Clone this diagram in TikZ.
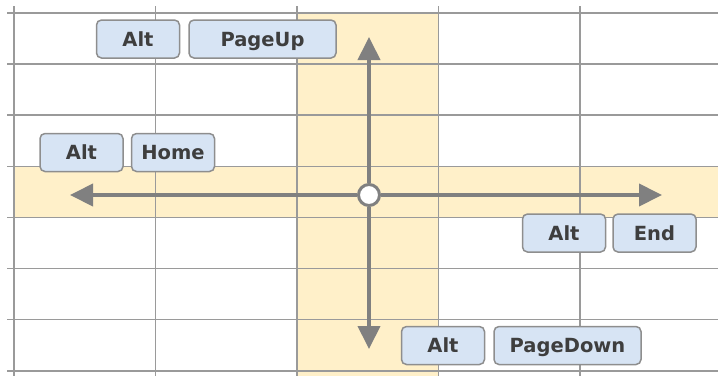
\documentclass[tikz,border=0pt]{standalone}
\usepackage{fontspec}
\setmainfont{DejaVu Sans}
\usepackage{xcolor}
\usetikzlibrary{positioning,arrows.meta}
\definecolor{gridgray}{HTML}{9A9A9A}
\definecolor{hilite}{HTML}{FFF0C9}
\definecolor{keyfill}{HTML}{D7E4F4}
\definecolor{keyline}{HTML}{8E8E8E}
\definecolor{keytext}{HTML}{3E3E3E}
\definecolor{arrowgray}{HTML}{808080}

\begin{document}
\begin{tikzpicture}[x=1pt, y=-1pt,
    key/.style={draw=keyline, line width=1.5pt, fill=keyfill, rounded corners=5pt,
        minimum width=83pt, minimum height=38pt, inner sep=0pt,
        text height=17pt, text depth=3pt, text=keytext,
        font=\fontsize{19.5}{20}\selectfont\bfseries},
    widekey/.style={key, minimum width=147pt},
    move/.style={draw=arrowgray, line width=4pt, -{Triangle[length=23pt,width=22pt]}}]
    \useasboundingbox (0,0) rectangle (718,376);

    % Highlighted column and row
    \fill[hilite] (297,13) rectangle (438.5,376);
    \fill[hilite] (14,166.3) rectangle (718,217.4);

    % Cell grid
    \foreach \y in {13,64.1,115.2,166.3,217.4,268.5,319.6,370.7}
        \draw[gridgray, line width=1.6pt] (7,\y) -- (718,\y);
    \foreach \x in {14,155.5,297,438.5,580}
        \draw[gridgray, line width=1.6pt] (\x,6) -- (\x,376);

    % Active cell and directions
    \node[circle, draw=arrowgray, line width=3pt, fill=white, minimum size=21pt, inner sep=0pt] (hub) at (369,195) {};
    \coordinate (upTip) at (369,37);
    \coordinate (downTip) at (369,349);
    \coordinate (leftTip) at (70,195);
    \coordinate (rightTip) at (662,195);
    \draw[move] (hub) -- (upTip);
    \draw[move] (hub) -- (downTip);
    \draw[move] (hub) -- (leftTip);
    \draw[move] (hub) -- (rightTip);

    % Key combinations
    \node[key] (altUp) at (138,39) {Alt};
    \node[widekey, right=8pt of altUp] (pageUp) {PageUp};

    \node[key] (altHome) at (81.5,152.5) {Alt};
    \node[key, right=7pt of altHome] (home) {Home};

    \node[key] (altEnd) at (564,233) {Alt};
    \node[key, right=6pt of altEnd] (endKey) {End};

    \node[key] (altDown) at (443,345.5) {Alt};
    \node[widekey, right=8pt of altDown] (pageDown) {PageDown};
\end{tikzpicture}
\end{document}
